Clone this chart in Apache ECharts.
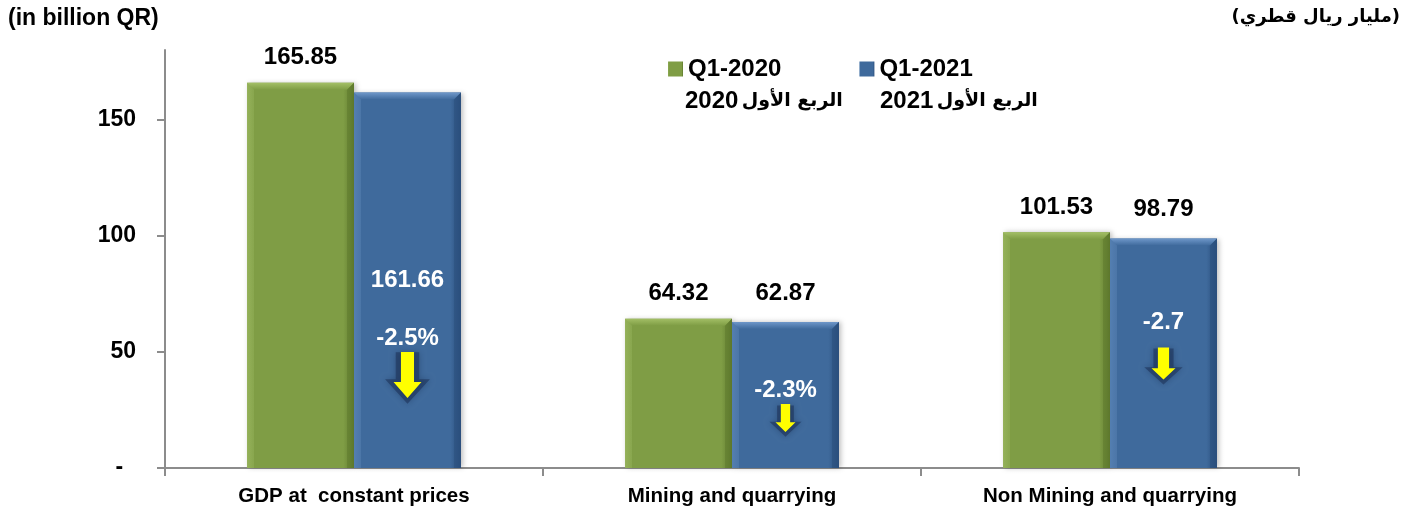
<!DOCTYPE html>
<html>
<head>
<meta charset="utf-8">
<script src="https://cdn.jsdelivr.net/npm/echarts@6/dist/echarts.min.js"></script>
<style>
html,body{margin:0;padding:0;background:#fff;}
#c{width:1409px;height:516px;}
</style>
</head>
<body>
<div id="c"></div>
<script>
const categories = ['GDP at  constant prices', 'Mining and quarrying', 'Non Mining and quarrying'];
const seriesNames = ['Q1-2020', 'Q1-2021'];
const seriesYears = ['2020', '2021'];
const seriesArabic = 'الربع الأول';
const q1_2020 = [165.85, 64.32, 101.53];
const q1_2021 = [161.66, 62.87, 98.79];
const changeLabels = ['-2.5%', '-2.3%', '-2.7'];
const yTicks = [0, 50, 100, 150];

// annotation anchor levels (in axis units) for the change labels and arrows
const changeTextAt = [56, 33.5, 62.5];
const arrowAt = [40, 21.5, 45];
const arrowSizes = [[28, 46], [20, 28], [24, 32]];

const BAR_FRAC = 0.283;
const FONT = '"Liberation Sans", Arial, sans-serif';
const AFONT = '"DejaVu Sans", "Liberation Sans", sans-serif';

const green = {base: '#7F9D45', light: '#A3BF66', dark: '#5F7A2E', side: '#8FAD55'};
const blue = {base: '#3F6A9C', light: '#6E97C9', dark: '#2A4E7C', side: '#4B77AA'};

function barColor(c) {
  return {
    type: 'linear', x: 0, y: 0, x2: 1, y2: 0,
    colorStops: [
      {offset: 0, color: c.side}, {offset: 0.07, color: c.base},
      {offset: 0.9, color: c.base}, {offset: 1, color: c.dark}
    ]
  };
}

function bevel(sign, c) {
  return function (params, api) {
    const i = api.value(0), v = api.value(1);
    const top = api.coord([i, v]);
    const base = api.coord([i, 0]);
    const band = api.size([1, 0])[0];
    const w = band * BAR_FRAC;
    const x0 = sign < 0 ? top[0] - w : top[0];
    const x1 = x0 + w;
    const y0 = top[1], y1 = base[1];
    const b = 7;
    return {
      type: 'group',
      children: [
        {type: 'polygon', shape: {points: [[x0, y0], [x1, y0], [x1 - b, y0 + b], [x0 + b, y0 + b]]},
          style: {fill: {type: 'linear', x: 0, y: 0, x2: 0, y2: 1, colorStops: [{offset: 0, color: c.light}, {offset: 1, color: c.base}]}}},
        {type: 'polygon', shape: {points: [[x1, y0], [x1, y1], [x1 - b, y1], [x1 - b, y0 + b]]},
          style: {fill: c.dark, opacity: 0.55}},
        {type: 'polygon', shape: {points: [[x0, y0], [x0 + b, y0 + b], [x0 + b, y1], [x0, y1]]},
          style: {fill: c.light, opacity: 0.25}}
      ]
    };
  };
}

const arrowPath = 'path://M8,0 L22,0 L22,30 L30,30 L15,46 L0,30 L8,30 Z';
const shadowPath = 'path://M4,0 L26,0 L26,26 L36,26 L15,50 L-6,26 L4,26 Z';

const markData = [];
changeLabels.forEach(function (t, i) {
  markData.push({
    coord: [i, arrowAt[i]], symbol: shadowPath,
    symbolSize: [arrowSizes[i][0] * 1.6, arrowSizes[i][1] * 1.12],
    symbolOffset: [0, 3],
    itemStyle: {color: 'rgba(30,52,90,0.6)', shadowBlur: 6, shadowColor: 'rgba(20,40,70,0.6)'},
    label: {show: false}
  });
  markData.push({
    coord: [i, arrowAt[i]], symbol: arrowPath, symbolSize: arrowSizes[i],
    itemStyle: {color: '#FFFF00'}, label: {show: false}
  });
  markData.push({
    coord: [i, changeTextAt[i]], symbol: 'rect', symbolSize: 1,
    itemStyle: {color: 'rgba(0,0,0,0)'},
    label: {show: true, position: 'inside', formatter: t, color: '#fff',
      fontSize: 24, fontWeight: 'bold', fontFamily: FONT}
  });
});

function legendLine2(k) {
  return '{n|' + seriesYears[k] + '} {a|' + seriesArabic + '}';
}
const line2Rich = {
  n: {font: 'bold 24px ' + FONT, fill: '#000'},
  a: {font: 'bold 19px ' + AFONT, fill: '#000'}
};

const chart = echarts.init(document.getElementById('c'), null, {renderer: 'canvas'});
chart.setOption({
  animation: false,
  backgroundColor: '#fff',
  grid: {left: 165, right: 110, top: 50, bottom: 48, containLabel: false},
  legend: {
    data: seriesNames, left: 663, top: 52, itemWidth: 15, itemHeight: 15, itemGap: 78,
    icon: 'rect',
    textStyle: {fontSize: 24, fontWeight: 'bold', color: '#000', fontFamily: FONT}
  },
  graphic: [
    {type: 'text', left: 8, top: 7, style: {text: '(in billion QR)', font: 'bold 23px ' + FONT, fill: '#000'}},
    {type: 'text', right: 9, top: 8, style: {text: '(مليار ريال قطري)', font: 'bold 18px ' + AFONT, fill: '#000'}},
    {type: 'text', left: 685, top: 89, style: {text: legendLine2(0), rich: line2Rich}},
    {type: 'text', left: 880, top: 89, style: {text: legendLine2(1), rich: line2Rich}}
  ],
  xAxis: {
    type: 'category', data: categories,
    axisLine: {lineStyle: {color: '#8C8C8C', width: 2}},
    axisTick: {show: true, length: 8, lineStyle: {color: '#8C8C8C', width: 2}},
    axisLabel: {margin: 18, fontSize: 20.5, fontWeight: 'bold', color: '#000', fontFamily: FONT}
  },
  yAxis: {
    type: 'value', min: 0, max: 180, interval: 50,
    splitLine: {show: false},
    axisLine: {show: true, lineStyle: {color: '#8C8C8C', width: 2}},
    axisTick: {show: true, length: 8, customValues: yTicks, lineStyle: {color: '#8C8C8C', width: 2}},
    axisLabel: {margin: 29, customValues: yTicks, fontSize: 23, fontWeight: 'bold', color: '#000', fontFamily: FONT,
      formatter: function (v) { return v === 0 ? '-  ' : String(v); }}
  },
  series: [
    {
      name: seriesNames[0], type: 'bar', data: q1_2020, barWidth: (BAR_FRAC * 100) + '%', barGap: '0%',
      itemStyle: {color: barColor(green), shadowColor: 'rgba(0,0,0,0.25)', shadowBlur: 5, shadowOffsetX: 2},
      label: {show: true, position: 'top', distance: 13, color: '#000', fontSize: 24, fontWeight: 'bold', fontFamily: FONT}
    },
    {
      name: seriesNames[1], type: 'bar', barWidth: (BAR_FRAC * 100) + '%', barGap: '0%',
      data: q1_2021.map(function (v, i) {
        return i === 0 ? {value: v, label: {position: 'inside', color: '#fff', distance: 0}} : v;
      }),
      itemStyle: {color: barColor(blue), shadowColor: 'rgba(0,0,0,0.25)', shadowBlur: 5, shadowOffsetX: 2},
      label: {show: true, position: 'top', distance: 17, color: '#000', fontSize: 24, fontWeight: 'bold', fontFamily: FONT},
      markPoint: {silent: true, data: markData}
    },
    {
      type: 'custom', silent: true, z: 3,
      data: q1_2020.map(function (v, i) { return [i, v]; }),
      renderItem: bevel(-1, green), tooltip: {show: false}
    },
    {
      type: 'custom', silent: true, z: 3,
      data: q1_2021.map(function (v, i) { return [i, v]; }),
      renderItem: bevel(1, blue), tooltip: {show: false}
    }
  ]
});
</script>
</body>
</html>
